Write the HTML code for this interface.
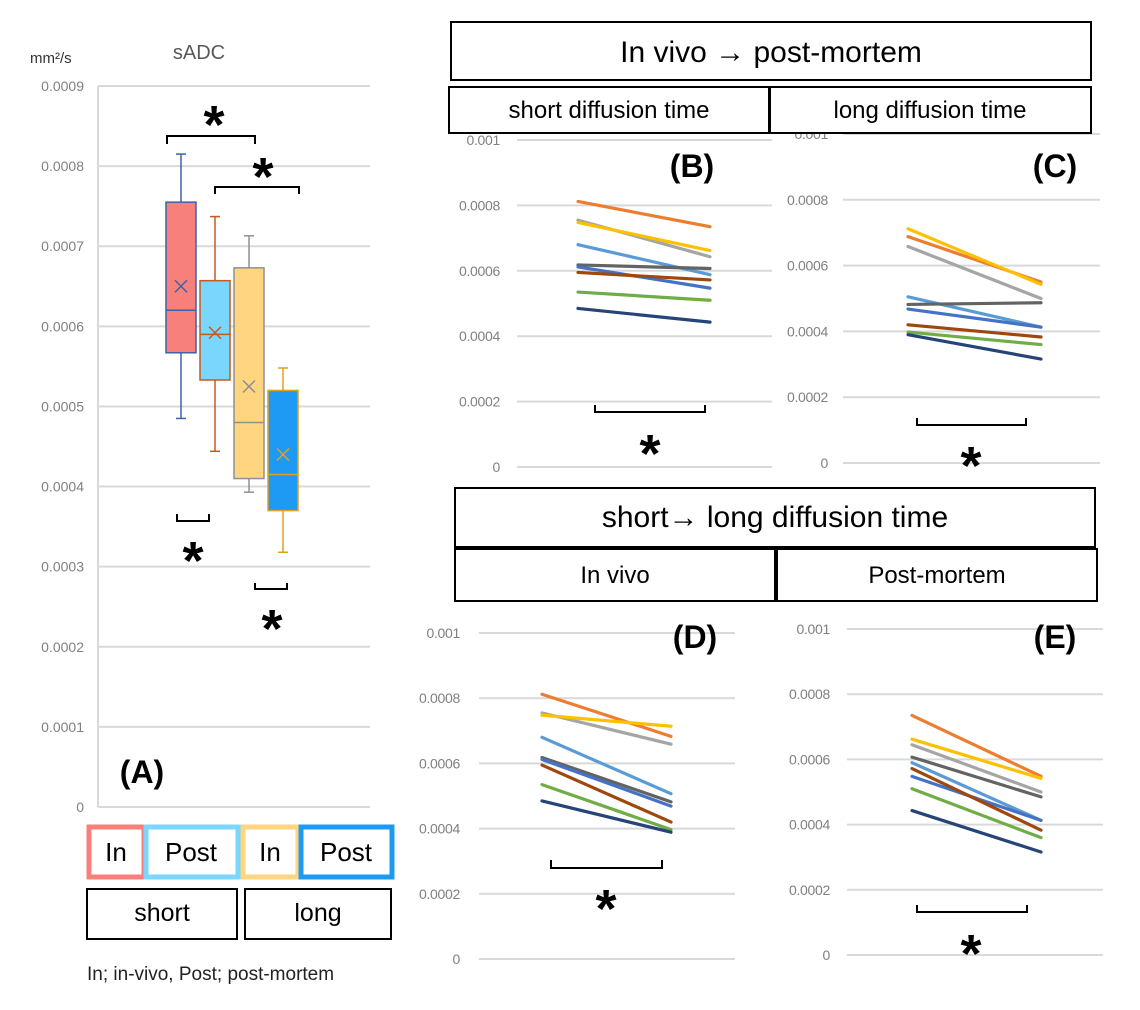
<!DOCTYPE html>
<html><head><meta charset="utf-8"><style>
html,body{margin:0;padding:0;background:#fff;}
svg{display:block;font-family:"Liberation Sans","Noto Sans CJK JP",sans-serif;}
.tick{fill:#808080;font-size:14px;}
.grid{stroke:#d9d9d9;stroke-width:2;}
</style></head><body>
<svg id="fig" width="1140" height="1010" viewBox="0 0 1140 1010">
<g id="panelA"></g>
<g id="panels"></g>
<g id="annot"></g>
</svg>
<script>
const NS='http://www.w3.org/2000/svg';
function mk(parent,tag,attrs,text){const e=document.createElementNS(NS,tag);for(const k in attrs)e.setAttribute(k,attrs[k]);if(text!==undefined)e.textContent=text;parent.appendChild(e);return e;}

// ---- Panel A data ----
const boxGroups=['short-in','short-post','long-in','long-post'];
const boxMax=[0.000815,0.000737,0.000713,0.000548];
const boxQ3=[0.000755,0.000657,0.000673,0.000520];
const boxMedian=[0.000620,0.000590,0.000480,0.000415];
const boxMean=[0.000650,0.000592,0.000525,0.000440];
const boxQ1=[0.000567,0.000533,0.000410,0.000370];
const boxMin=[0.000485,0.000444,0.000393,0.000318];
const aTicks=['0','0.0001','0.0002','0.0003','0.0004','0.0005','0.0006','0.0007','0.0008','0.0009'];

// ---- Line panels data ----
const seriesNames=['orange','gray','yellow','light-blue','dark-gray','blue','brown','green','navy'];
const seriesColors=['#ED7D31','#A5A5A5','#FFC000','#5B9BD5','#636363','#4472C4','#9E480E','#70AD47','#264478'];
const bStart=[0.000812,0.000755,0.000748,0.000680,0.000618,0.000612,0.000595,0.000535,0.000485];
const bEnd=[0.000735,0.000643,0.000662,0.000588,0.000607,0.000547,0.000572,0.000510,0.000443];
const cStart=[0.000688,0.000658,0.000712,0.000505,0.000482,0.000468,0.000420,0.000398,0.000390];
const cEnd=[0.000550,0.000500,0.000543,0.000413,0.000487,0.000413,0.000383,0.000360,0.000316];
const dStart=[0.000812,0.000755,0.000748,0.000680,0.000618,0.000612,0.000595,0.000535,0.000485];
const dEnd=[0.000683,0.000659,0.000714,0.000507,0.000482,0.000469,0.000420,0.000397,0.000389];
const eStart=[0.000735,0.000645,0.000662,0.000590,0.000607,0.000548,0.000572,0.000510,0.000443];
const eEnd=[0.000548,0.000500,0.000542,0.000413,0.000485,0.000413,0.000383,0.000360,0.000316];
const lineTicks=['0','0.0002','0.0004','0.0006','0.0008','0.001'];

// ---- draw panel A ----
const A=document.getElementById('panelA');
const ay=v=>807-v/0.0009*721;
aTicks.forEach((t,i)=>{
  const v=i*0.0001,y=ay(v);
  const g=mk(A,'line',{x1:98,x2:370,y1:y,y2:y,class:'grid'});
  
  
  const tx=mk(A,'text',{x:84,y:y+5,'text-anchor':'end',class:'tick'},t);
  
  
});
const axl=mk(A,'line',{x1:98,x2:98,y1:86,y2:807,stroke:'#d9d9d9','stroke-width':2});


const boxFill=['#F8807A','#7AD6FC','#FFD580','#1E9AF5'];
const boxStroke=['#3D62A8','#C55A20','#909090','#E0A020'];
const ax=i=>181+i*34;
boxGroups.forEach((n,i)=>{
  const cx=ax(i),w=30,st=boxStroke[i];
  const g=mk(A,'g',{});
  
  
  mk(g,'line',{x1:cx,x2:cx,y1:ay(boxMax[i]),y2:ay(boxQ3[i]),stroke:st,'stroke-width':1.5});
  mk(g,'line',{x1:cx,x2:cx,y1:ay(boxQ1[i]),y2:ay(boxMin[i]),stroke:st,'stroke-width':1.5});
  mk(g,'line',{x1:cx-5,x2:cx+5,y1:ay(boxMax[i]),y2:ay(boxMax[i]),stroke:st,'stroke-width':1.5});
  mk(g,'line',{x1:cx-5,x2:cx+5,y1:ay(boxMin[i]),y2:ay(boxMin[i]),stroke:st,'stroke-width':1.5});
  mk(g,'rect',{x:cx-w/2,y:ay(boxQ3[i]),width:w,height:ay(boxQ1[i])-ay(boxQ3[i]),fill:boxFill[i],stroke:st,'stroke-width':1.5});
  mk(g,'line',{x1:cx-w/2,x2:cx+w/2,y1:ay(boxMedian[i]),y2:ay(boxMedian[i]),stroke:st,'stroke-width':1.5});
  const my=ay(boxMean[i]);
  mk(g,'path',{d:`M${cx-6} ${my-6}L${cx+6} ${my+6}M${cx+6} ${my-6}L${cx-6} ${my+6}`,stroke:st,'stroke-width':1.5});
});

// ---- draw line panels ----
const P=document.getElementById('panels');
const panelDefs=[
 {id:'b',gx1:517,gx2:772,y0:467,y1:140,lx1:578,lx2:710,lab:500,s:bStart,e:bEnd},
 {id:'c',gx1:843,gx2:1100,y0:463,y1:134,lx1:908,lx2:1041,lab:828,s:cStart,e:cEnd},
 {id:'d',gx1:479,gx2:735,y0:959,y1:633,lx1:542,lx2:671,lab:460,s:dStart,e:dEnd},
 {id:'e',gx1:847,gx2:1103,y0:955,y1:629,lx1:912,lx2:1041,lab:830,s:eStart,e:eEnd}
];
panelDefs.forEach(p=>{
  const g=mk(P,'g',{});
  
  
  const yv=v=>p.y0-(v/0.001)*(p.y0-p.y1);
  lineTicks.forEach((t,i)=>{
    const y=yv(i*0.0002);
    const gl=mk(g,'line',{x1:p.gx1,x2:p.gx2,y1:y,y2:y,class:'grid'});
    
    
    const tx=mk(g,'text',{x:p.lab,y:y+5,'text-anchor':'end',class:'tick','letter-spacing':'-0.3'},t);
    
    
  });
  seriesNames.forEach((n,i)=>{
    const l=mk(g,'line',{x1:p.lx1,x2:p.lx2,y1:yv(p.s[i]),y2:yv(p.e[i]),stroke:seriesColors[i],'stroke-width':3.2,'stroke-linecap':'round'});
    
    
  });
});
</script>
<script>
const N=document.getElementById('annot');
function T(x,y,txt,size,name,opts){const e=mk(N,'text',Object.assign({x:x,y:y,'font-size':size,'text-anchor':'middle',fill:'#000'},opts||{}),txt);return e;}
function R(x,y,w,h,name,stroke,sw){const e=mk(N,'rect',{x:x,y:y,width:w,height:h,fill:'#fff',stroke:stroke||'#000','stroke-width':sw||2});return e;}
function BR(x1,x2,y1,y2,name){const e=mk(N,'path',{d:`M${x1} ${y1}V${y2}H${x2}V${y1}`,fill:'none',stroke:'#000','stroke-width':2});}
function STAR(x,cy,name){T(x,cy+27,'*',54,name,{'font-weight':'bold'});}
// panel A texts
T(30,63,'mm²/s',15,'a-unit-label',{'text-anchor':'start',fill:'#333'});
T(199,59,'sADC',20,'a-chart-title',{fill:'#595959'});
T(142,783,'(A)',32,'a-panel-label',{'font-weight':'bold'});
BR(167,255,144,136,'a-bracket-1');STAR(214,116,'a-sig-1');
BR(215,299,194,187,'a-bracket-2');STAR(263,168,'a-sig-2');
BR(177,209,514,521,'a-bracket-3');STAR(193,552,'a-sig-3');
BR(255,287,583,589,'a-bracket-4');STAR(272,620,'a-sig-4');
// legend
R(89,827,55,50,'legend-short-in','#F8807A',5);T(116,861,'In',26,'legend-short-in-text');
R(146,827,92,50,'legend-short-post','#7AD6FC',5);T(191,861,'Post',26,'legend-short-post-text');
R(243,827,55,50,'legend-long-in','#FFD580',5);T(270,861,'In',26,'legend-long-in-text');
R(301,827,91,50,'legend-long-post','#1E9AF5',5);T(346,861,'Post',26,'legend-long-post-text');
R(87,889,150,50,'legend-short-group');T(162,921,'short',25,'legend-short-text');
R(245,889,146,50,'legend-long-group');T(318,921,'long',25,'legend-long-text');
T(87,980,'In; in-vivo, Post; post-mortem',19,'footnote',{'text-anchor':'start',fill:'#222'});
// headers top
R(451,22,640,58,'header-invivo-postmortem');T(771,62,'In vivo →  post-mortem',30,'header-invivo-postmortem-text');
R(449,87,320,46,'header-short-diffusion');T(609,118,'short diffusion time',24,'header-short-diffusion-text');
R(770,87,321,46,'header-long-diffusion');T(930,118,'long diffusion time',24,'header-long-diffusion-text');
T(692,177,'(B)',32,'b-panel-label',{'font-weight':'bold'});
T(1055,177,'(C)',32,'c-panel-label',{'font-weight':'bold'});
BR(595,705,405,412,'b-bracket');STAR(650,445,'b-sig');
BR(917,1026,418,425,'c-bracket');STAR(971,457,'c-sig');
// headers bottom
R(455,488,640,59,'header-short-long');T(775,527,'short→ long diffusion time',30,'header-short-long-text');
R(455,549,320,52,'header-in-vivo');T(615,583,'In vivo',24,'header-in-vivo-text');
R(777,549,320,52,'header-post-mortem');T(937,583,'Post-mortem',24,'header-post-mortem-text');
T(695,648,'(D)',32,'d-panel-label',{'font-weight':'bold'});
T(1055,648,'(E)',32,'e-panel-label',{'font-weight':'bold'});
BR(551,662,860,868,'d-bracket');STAR(606,900,'d-sig');
BR(917,1027,905,912,'e-bracket');STAR(971,945,'e-sig');
</script>
</body></html>
